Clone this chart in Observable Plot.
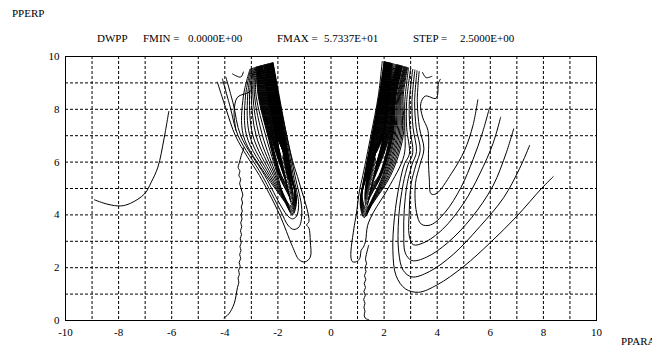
<!DOCTYPE html>
<html><head><meta charset="utf-8">
<script src="https://cdn.jsdelivr.net/npm/d3@7"></script>
<script src="https://cdn.jsdelivr.net/npm/@observablehq/plot@0.6"></script>
<style>
body{margin:0;background:#fff;}
#wrap{position:relative;width:652px;height:350px;overflow:hidden;font-family:"Liberation Serif",serif;font-size:11px;color:#000;background:#fff}
.t{position:absolute;white-space:pre;line-height:1}
#chart{position:absolute;left:0;top:0}
</style></head><body>
<div id="wrap">
<div id="chart"></div>
<div class="t" style="left:12px;top:8px">PPERP</div>
<div class="t" style="left:97px;top:33px">DWPP</div>
<div class="t" style="left:143px;top:33px">FMIN =</div>
<div class="t" style="left:188px;top:33px">0.0000E+00</div>
<div class="t" style="left:277px;top:33px">FMAX =</div>
<div class="t" style="left:324px;top:33px">5.7337E+01</div>
<div class="t" style="left:413px;top:33px">STEP =</div>
<div class="t" style="left:460px;top:33px">2.5000E+00</div>
<div class="t" style="left:621px;top:336px">PPARA</div>
</div>
<script>
// axis ticks and grid
const xTicks = [-10, -8, -6, -4, -2, 0, 2, 4, 6, 8, 10];
const yTicks = [0, 2, 4, 6, 8, 10];
const gridX = [-9, -8, -7, -6, -5, -4, -3, -2, -1, 0, 1, 2, 3, 4, 5, 6, 7, 8, 9];
const gridY = [1, 2, 3, 4, 5, 6, 7, 8, 9];

// contour lines, [PPARA, PPERP]
const leftUCurve = [[-8.91,4.57],[-8.4,4.4],[-7.92,4.34],[-7.55,4.44],[-7.02,4.80],[-6.77,5.24],[-6.52,5.81],[-6.29,6.88],[-6.11,7.92]];
const leftWavy = [[-4.03,0.1],[-3.85,0.25],[-3.65,0.63],[-3.52,1.26],[-3.47,1.45],[-3.50,1.6],[-3.45,1.75],[-3.48,1.9],[-3.42,2.05],[-3.46,2.2],[-3.40,2.35],[-3.44,2.5],[-3.39,2.65],[-3.43,2.8],[-3.38,2.95],[-3.42,3.1],[-3.37,3.25],[-3.41,3.4],[-3.36,3.55],[-3.40,3.7],[-3.35,3.85],[-3.39,4.0],[-3.34,4.15],[-3.38,4.3],[-3.33,4.45],[-3.37,4.6],[-3.32,4.75],[-3.36,4.9],[-3.40,5.05],[-3.44,5.2],[-3.40,5.35],[-3.47,5.5],[-3.43,5.65],[-3.50,5.8],[-3.46,5.95],[-3.42,6.1],[-3.38,6.25],[-3.33,6.4],[-3.28,6.55]];
const leftOuter1 = [[-4.28,9.03],[-3.95,8.0],[-3.6,7.0],[-3.15,6.2],[-2.7,5.5],[-1.95,4.04],[-1.45,2.8],[-1.2,2.3],[-0.98,2.22],[-0.78,2.4],[-0.78,3.0],[-0.83,3.5],[-0.92,3.62],[-0.83,3.75],[-1.2,5.24],[-1.45,6.06],[-1.75,7.4],[-2.0,8.6],[-2.2,9.75]];
const leftOuter2 = [[-4.09,9.15],[-3.8,8.1],[-3.5,7.0],[-2.6,5.5],[-1.9,4.15],[-1.6,3.58],[-1.4,3.45],[-1.2,3.55],[-1.1,4.2],[-1.36,5.5],[-1.67,7],[-1.95,8.5],[-2.18,9.76]];
const leftOuter3 = [[-3.96,9.22],[-3.68,8.2],[-3.4,7.0],[-2.5,5.5],[-1.86,4.3],[-1.62,3.95],[-1.45,3.85],[-1.3,3.95],[-1.22,4.4],[-1.42,5.5],[-1.7,7],[-1.97,8.5],[-2.19,9.76]];
const leftKink = [[-2.95,8.84],[-3.08,8.65],[-3.52,8.46],[-3.65,7.89],[-3.58,7.2]];
const leftVee = [[-3.71,9.34],[-3.40,9.22],[-3.30,9.41]];
const leftFanOuter = [
  [[-3.05,9.52],[-3.3,8.5],[-3.3,7],[-2.45,5.5],[-1.75,4.5],[-1.45,4.0],[-1.3,4.5],[-1.47,5.5],[-1.73,7],[-1.99,8.5],[-2.2,9.75]],
  [[-3.02,9.53],[-3.22,8.5],[-3.18,7],[-2.38,5.5],[-1.76,4.55],[-1.46,4.05],[-1.31,4.55],[-1.482,5.5],[-1.742,7],[-2.002,8.5],[-2.21,9.75]],
  [[-2.99,9.54],[-3.14,8.5],[-3.06,7],[-2.31,5.5],[-1.77,4.6],[-1.47,4.1],[-1.32,4.6],[-1.494,5.5],[-1.754,7],[-2.014,8.5],[-2.22,9.75]],
  [[-2.96,9.55],[-3.07,8.5],[-2.94,7],[-2.24,5.5],[-1.78,4.65],[-1.48,4.15],[-1.33,4.65],[-1.506,5.5],[-1.766,7],[-2.026,8.5],[-2.23,9.75]],
  [[-2.93,9.56],[-3.0,8.5],[-2.82,7],[-2.17,5.5],[-1.79,4.7],[-1.49,4.2],[-1.34,4.7],[-1.518,5.5],[-1.778,7],[-2.038,8.5],[-2.24,9.75]],
  [[-2.9,9.57],[-2.94,8.5],[-2.7,7],[-2.11,5.5],[-1.8,4.75],[-1.5,4.25],[-1.35,4.75],[-1.53,5.5],[-1.79,7],[-2.05,8.5],[-2.25,9.74]],
  [[-2.87,9.58],[-2.88,8.5],[-2.58,7],[-2.06,5.5],[-1.81,4.8],[-1.51,4.3],[-1.36,4.8],[-1.542,5.5],[-1.802,7],[-2.062,8.5],[-2.26,9.74]],
  [[-2.84,9.59],[-2.82,8.5],[-2.46,7],[-2.01,5.5],[-1.82,4.85],[-1.52,4.35],[-1.37,4.85],[-1.554,5.5],[-1.814,7],[-2.074,8.5],[-2.27,9.74]]
];
const leftFanInner = [
  [[-2.82,9.59],[-2.74,8.5],[-2.38,7],[-1.97,5.5],[-1.578,4.7],[-1.478,4.4],[-1.418,4.7],[-1.57,5.5],[-1.83,7],[-2.09,8.5],[-2.28,9.74]],
  [[-2.808,9.6],[-2.72,8.5],[-2.362,7],[-1.95,5.5],[-1.598,4.79],[-1.498,4.49],[-1.438,4.79],[-1.582,5.5],[-1.842,7],[-2.104,8.5],[-2.294,9.73]],
  [[-2.796,9.6],[-2.70,8.5],[-2.344,7],[-1.93,5.5],[-1.618,4.88],[-1.518,4.58],[-1.458,4.88],[-1.594,5.5],[-1.854,7],[-2.118,8.5],[-2.308,9.73]],
  [[-2.784,9.6],[-2.68,8.5],[-2.326,7],[-1.91,5.5],[-1.637,4.97],[-1.537,4.67],[-1.477,4.97],[-1.606,5.5],[-1.866,7],[-2.132,8.5],[-2.322,9.73]],
  [[-2.772,9.61],[-2.66,8.5],[-2.308,7],[-1.89,5.5],[-1.657,5.06],[-1.557,4.76],[-1.497,5.06],[-1.618,5.5],[-1.878,7],[-2.146,8.5],[-2.336,9.72]],
  [[-2.76,9.61],[-2.64,8.5],[-2.29,7],[-1.87,5.5],[-1.677,5.15],[-1.577,4.85],[-1.517,5.15],[-1.63,5.5],[-1.89,7],[-2.16,8.5],[-2.35,9.72]],
  [[-2.748,9.61],[-2.62,8.5],[-2.272,7],[-1.697,5.24],[-1.597,4.94],[-1.537,5.24],[-1.642,5.5],[-1.902,7],[-2.174,8.5],[-2.364,9.72]],
  [[-2.736,9.62],[-2.60,8.5],[-2.254,7],[-1.717,5.33],[-1.617,5.03],[-1.557,5.33],[-1.914,7],[-2.188,8.5],[-2.378,9.71]],
  [[-2.724,9.62],[-2.58,8.5],[-2.236,7],[-1.736,5.42],[-1.636,5.12],[-1.576,5.42],[-1.926,7],[-2.202,8.5],[-2.392,9.71]],
  [[-2.712,9.62],[-2.56,8.5],[-2.218,7],[-1.756,5.51],[-1.656,5.21],[-1.596,5.51],[-1.938,7],[-2.216,8.5],[-2.406,9.71]],
  [[-2.7,9.63],[-2.54,8.5],[-2.2,7],[-1.776,5.6],[-1.676,5.3],[-1.616,5.6],[-1.95,7],[-2.23,8.5],[-2.42,9.7]],
  [[-2.688,9.63],[-2.52,8.5],[-2.182,7],[-1.796,5.69],[-1.696,5.39],[-1.636,5.69],[-1.962,7],[-2.244,8.5],[-2.434,9.7]],
  [[-2.676,9.63],[-2.50,8.5],[-2.164,7],[-1.816,5.78],[-1.716,5.48],[-1.656,5.78],[-1.974,7],[-2.258,8.5],[-2.448,9.7]],
  [[-2.664,9.64],[-2.48,8.5],[-2.146,7],[-1.835,5.87],[-1.735,5.57],[-1.675,5.87],[-1.986,7],[-2.272,8.5],[-2.462,9.69]],
  [[-2.652,9.64],[-2.46,8.5],[-2.128,7],[-1.855,5.96],[-1.755,5.66],[-1.695,5.96],[-1.998,7],[-2.286,8.5],[-2.476,9.69]],
  [[-2.64,9.64],[-2.44,8.5],[-2.11,7],[-1.875,6.05],[-1.775,5.75],[-1.715,6.05],[-2.01,7],[-2.3,8.5],[-2.49,9.69]],
  [[-2.628,9.65],[-2.42,8.5],[-2.092,7],[-1.895,6.14],[-1.795,5.84],[-1.735,6.14],[-2.022,7],[-2.314,8.5],[-2.504,9.68]],
  [[-2.616,9.65],[-2.40,8.5],[-2.074,7],[-1.915,6.23],[-1.815,5.93],[-1.755,6.23],[-2.034,7],[-2.328,8.5],[-2.518,9.68]],
  [[-2.604,9.65],[-2.385,8.5],[-2.062,7],[-1.93,6.3],[-1.835,6.02],[-1.775,6.3],[-2.044,7],[-2.342,8.5],[-2.532,9.67]],
  [[-2.592,9.66],[-2.372,8.5],[-2.056,7],[-1.945,6.4],[-1.855,6.11],[-1.795,6.4],[-2.05,7],[-2.355,8.5],[-2.546,9.67]],
  [[-2.58,9.66],[-2.363,8.5],[-2.053,7],[-1.96,6.5],[-1.875,6.2]]
];
const rightWavy = [[1.42,2.85],[1.38,2.7],[1.33,2.5],[1.30,2.3],[1.34,2.15],[1.28,2.0],[1.32,1.85],[1.26,1.7],[1.31,1.55],[1.25,1.4],[1.30,1.25],[1.24,1.1],[1.29,0.95],[1.23,0.8],[1.28,0.65],[1.24,0.5],[1.28,0.35],[1.25,0.2],[1.3,0.08],[1.42,0.03]];
const rightOuter = [[1.93,9.81],[1.78,8.5],[1.5,7],[1.2,5.5],[1.07,4.9],[0.95,4.0],[0.88,3.6],[0.75,2.4],[0.82,2.22],[1.0,2.25],[1.1,2.4],[1.13,2.65],[1.22,2.78],[1.3,3.0],[1.38,3.6],[1.6,4.1],[2.15,5.0],[2.75,6.25],[2.78,7.3],[2.78,8.3],[2.92,9.57]];
const rightVee = [[3.45,9.39],[3.58,9.2],[3.8,9.25]];
const rightFanOuter = [
  [[2.0,9.8],[1.81,8.5],[1.54,7],[1.26,5.5],[1.1,4.4],[1.25,3.9],[1.55,4.4],[2.25,5.5],[2.72,7],[2.72,8.5],[2.88,9.58]],
  [[2.01,9.8],[1.822,8.5],[1.552,7],[1.272,5.5],[1.11,4.45],[1.26,3.95],[1.56,4.45],[2.2,5.5],[2.67,7],[2.68,8.5],[2.86,9.58]],
  [[2.02,9.79],[1.834,8.5],[1.564,7],[1.284,5.5],[1.12,4.5],[1.27,4.0],[1.57,4.5],[2.15,5.5],[2.62,7],[2.64,8.5],[2.84,9.59]],
  [[2.03,9.79],[1.846,8.5],[1.576,7],[1.296,5.5],[1.13,4.55],[1.28,4.05],[1.58,4.55],[2.1,5.5],[2.57,7],[2.61,8.5],[2.82,9.6]],
  [[2.04,9.79],[1.858,8.5],[1.588,7],[1.308,5.5],[1.14,4.6],[1.29,4.1],[1.59,4.6],[2.06,5.5],[2.52,7],[2.58,8.5],[2.8,9.6]],
  [[2.05,9.79],[1.87,8.5],[1.6,7],[1.32,5.5],[1.15,4.65],[1.3,4.15],[1.6,4.65],[2.02,5.5],[2.47,7],[2.55,8.5],[2.78,9.61]],
  [[2.06,9.78],[1.882,8.5],[1.612,7],[1.332,5.5],[1.16,4.7],[1.31,4.2],[1.61,4.7],[1.98,5.5],[2.42,7],[2.52,8.5],[2.76,9.61]],
  [[2.07,9.78],[1.894,8.5],[1.624,7],[1.344,5.5],[1.17,4.75],[1.32,4.25],[1.62,4.75],[1.95,5.5],[2.38,7],[2.49,8.5],[2.74,9.62]]
];
const rightFanInner = [
  [[2.08,9.78],[1.9,8.5],[1.64,7],[1.36,5.5],[1.276,4.6],[1.336,4.3],[1.436,4.6],[1.9,5.5],[2.34,7],[2.45,8.5],[2.7,9.63]],
  [[2.092,9.78],[1.914,8.5],[1.658,7],[1.372,5.5],[1.296,4.69],[1.356,4.39],[1.456,4.69],[1.885,5.5],[2.32,7],[2.434,8.5],[2.686,9.63]],
  [[2.104,9.78],[1.928,8.5],[1.676,7],[1.384,5.5],[1.316,4.78],[1.376,4.48],[1.476,4.78],[1.87,5.5],[2.3,7],[2.418,8.5],[2.672,9.64]],
  [[2.116,9.77],[1.942,8.5],[1.694,7],[1.396,5.5],[1.335,4.87],[1.395,4.57],[1.495,4.87],[1.855,5.5],[2.28,7],[2.402,8.5],[2.658,9.64]],
  [[2.128,9.77],[1.956,8.5],[1.712,7],[1.408,5.5],[1.355,4.96],[1.415,4.66],[1.515,4.96],[1.84,5.5],[2.26,7],[2.386,8.5],[2.644,9.64]],
  [[2.14,9.77],[1.97,8.5],[1.73,7],[1.42,5.5],[1.375,5.05],[1.435,4.75],[1.535,5.05],[1.825,5.5],[2.24,7],[2.37,8.5],[2.63,9.65]],
  [[2.152,9.77],[1.984,8.5],[1.748,7],[1.432,5.5],[1.395,5.14],[1.455,4.84],[1.555,5.14],[1.81,5.5],[2.22,7],[2.354,8.5],[2.616,9.65]],
  [[2.164,9.76],[1.998,8.5],[1.766,7],[1.415,5.23],[1.475,4.93],[1.575,5.23],[2.2,7],[2.338,8.5],[2.602,9.66]],
  [[2.176,9.76],[2.012,8.5],[1.784,7],[1.434,5.32],[1.494,5.02],[1.594,5.32],[2.18,7],[2.322,8.5],[2.588,9.66]],
  [[2.188,9.76],[2.026,8.5],[1.802,7],[1.454,5.41],[1.514,5.11],[1.614,5.41],[2.16,7],[2.306,8.5],[2.574,9.66]],
  [[2.2,9.76],[2.04,8.5],[1.82,7],[1.474,5.5],[1.534,5.2],[1.634,5.5],[2.14,7],[2.29,8.5],[2.56,9.67]],
  [[2.212,9.75],[2.054,8.5],[1.838,7],[1.494,5.59],[1.554,5.29],[1.654,5.59],[2.12,7],[2.274,8.5],[2.546,9.67]],
  [[2.224,9.75],[2.068,8.5],[1.856,7],[1.514,5.68],[1.574,5.38],[1.674,5.68],[2.1,7],[2.258,8.5],[2.532,9.67]],
  [[2.236,9.75],[2.082,8.5],[1.874,7],[1.533,5.77],[1.593,5.47],[1.693,5.77],[2.08,7],[2.242,8.5],[2.518,9.68]],
  [[2.248,9.74],[2.096,8.5],[1.892,7],[1.553,5.86],[1.613,5.56],[1.713,5.86],[2.06,7],[2.226,8.5],[2.504,9.68]],
  [[2.26,9.74],[2.11,8.5],[1.91,7],[1.573,5.95],[1.633,5.65],[1.733,5.95],[2.04,7],[2.21,8.5],[2.49,9.69]],
  [[2.272,9.74],[2.124,8.5],[1.928,7],[1.593,6.04],[1.653,5.74],[1.753,6.04],[2.02,7],[2.194,8.5],[2.476,9.69]],
  [[2.284,9.74],[2.138,8.5],[1.946,7],[1.613,6.13],[1.673,5.83],[1.773,6.13],[2.0,7],[2.178,8.5],[2.462,9.69]],
  [[2.3,9.73],[2.15,8.5],[1.96,7],[1.633,6.22],[1.693,5.92],[1.793,6.22],[1.985,7],[2.166,8.5],[2.43,9.7]],
  [[2.32,9.73],[2.158,8.5],[1.97,7],[1.653,6.31],[1.713,6.01],[1.813,6.31],[1.975,7],[2.162,8.5],[2.39,9.71]],
  [[2.35,9.72],[2.16,8.5],[1.972,7],[1.73,6.4]]
];
const uCurve1 = [[5.53,8.36],[5.35,7.4],[5.03,6.44],[4.53,5.56],[3.96,4.8],[3.77,4.8],[3.7,5.4],[3.67,6.06],[3.65,7.2],[3.45,7.7],[3.38,8.21],[3.55,8.5],[3.96,8.42],[4.05,9.0],[4.12,9.14]];
const uCurve2 = [[5.97,8.06],[5.7,7.1],[5.35,6.1],[4.9,5.05],[4.3,4.1],[3.75,3.62],[3.4,3.65],[3.22,4.1],[3.18,5.18],[3.35,5.9],[3.5,6.5],[3.33,7.3],[3.25,8.3],[3.32,9.43]];
const uCurve3 = [[6.39,7.70],[6.1,6.7],[5.6,5.55],[5.0,4.45],[4.2,3.45],[3.5,2.95],[3.1,2.87],[2.95,3.2],[2.95,4.2],[3.02,5.18],[3.2,5.9],[3.36,6.45],[3.21,7.3],[3.15,8.3],[3.24,9.46]];
const uCurve4 = [[6.88,7.26],[6.6,6.35],[6.1,5.1],[5.3,3.9],[4.4,2.95],[3.6,2.4],[3.05,2.27],[2.8,2.55],[2.74,3.3],[2.76,4.2],[2.87,5.18],[3.05,5.9],[3.22,6.4],[3.09,7.3],[3.05,8.3],[3.16,9.49]];
const uCurve5 = [[7.48,6.63],[7.1,5.75],[6.5,4.65],[5.6,3.55],[4.6,2.5],[3.7,1.85],[3.05,1.65],[2.72,1.9],[2.55,2.6],[2.55,3.9],[2.72,5.18],[2.9,5.9],[3.08,6.35],[2.97,7.3],[2.95,8.3],[3.08,9.51]];
const uCurve6 = [[8.37,5.45],[7.92,4.99],[7.0,3.95],[6.0,2.95],[5.0,2.05],[4.0,1.35],[3.3,1.07],[2.8,1.2],[2.45,1.7],[2.33,2.65],[2.39,3.91],[2.58,5.18],[2.77,5.94],[2.95,6.3],[2.85,7.3],[2.85,8.3],[3.0,9.54]];

const contours = [leftUCurve, leftWavy, leftOuter1, leftOuter2, leftOuter3, leftKink, leftVee, ...leftFanOuter, ...leftFanInner,
  rightWavy, rightOuter, rightVee, ...rightFanOuter, ...rightFanInner, uCurve1, uCurve2, uCurve3, uCurve4, uCurve5, uCurve6];
const rows = contours.flatMap((pts, k) => pts.map(([x, y]) => ({k, x, y})));

const chart = Plot.plot({
  width: 652, height: 350,
  marginLeft: 65, marginRight: 56, marginTop: 56, marginBottom: 30,
  x: {domain: [-10, 10]},
  y: {domain: [0, 10]},
  style: {fontFamily: "Liberation Serif, serif", fontSize: "11px", background: "transparent", color: "#000"},
  marks: [
    Plot.ruleX(gridX, {stroke: "#000", strokeWidth: 1, strokeDasharray: "3,2"}),
    Plot.ruleY(gridY, {stroke: "#000", strokeWidth: 1, strokeDasharray: "3,2"}),
    Plot.line(rows, {x: "x", y: "y", z: "k", stroke: "#000", strokeWidth: 1, curve: "catmull-rom"}),
    Plot.frame({stroke: "#000", strokeWidth: 1}),
    Plot.axisX(xTicks, {tickSize: 0, tickPadding: 8, label: null, tickFormat: d => String(d)}),
    Plot.axisY(yTicks, {tickSize: 0, tickPadding: 6, label: null, tickFormat: d => String(d)})
  ]
});
document.getElementById("chart").appendChild(chart);
</script>
</body></html>
